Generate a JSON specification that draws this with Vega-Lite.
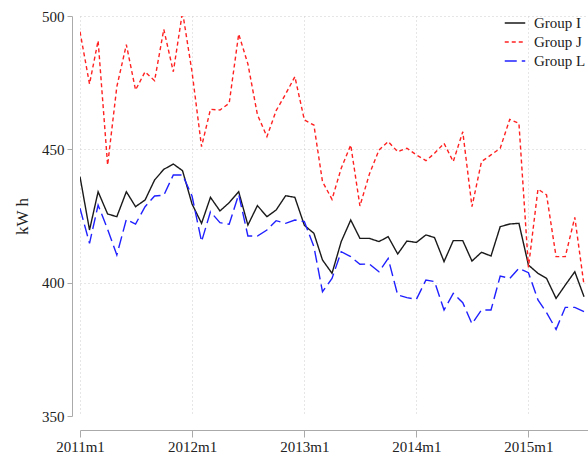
{
  "$schema": "https://vega.github.io/schema/vega-lite/v6.json",
  "width": 508,
  "height": 400,
  "autosize": {"type": "none"},
  "padding": {"left": 80, "top": 16, "right": 0, "bottom": 40},
  "background": "white",
  "config": {"view": {"stroke": null}, "font": "Liberation Serif"},
  "data": {"values": [
    {"month": "2011-01-01T00:00", "Group I": 439.75, "Group J": 494.1, "Group L": 427.9},
    {"month": "2011-02-01T00:00", "Group I": 419.75, "Group J": 474.5, "Group L": 414.75},
    {"month": "2011-03-01T00:00", "Group I": 434.1, "Group J": 490.75, "Group L": 429.1},
    {"month": "2011-04-01T00:00", "Group I": 425.75, "Group J": 444.1, "Group L": 420},
    {"month": "2011-05-01T00:00", "Group I": 424.75, "Group J": 473.5, "Group L": 410.4},
    {"month": "2011-06-01T00:00", "Group I": 434.1, "Group J": 489.25, "Group L": 423.75},
    {"month": "2011-07-01T00:00", "Group I": 428.5, "Group J": 472.25, "Group L": 422},
    {"month": "2011-08-01T00:00", "Group I": 431, "Group J": 479.1, "Group L": 428.5},
    {"month": "2011-09-01T00:00", "Group I": 438.5, "Group J": 475.75, "Group L": 432.5},
    {"month": "2011-10-01T00:00", "Group I": 442.5, "Group J": 495, "Group L": 432.75},
    {"month": "2011-11-01T00:00", "Group I": 444.5, "Group J": 479.1, "Group L": 440.4},
    {"month": "2011-12-01T00:00", "Group I": 442, "Group J": 501.6, "Group L": 440.4},
    {"month": "2012-01-01T00:00", "Group I": 429.5, "Group J": 479, "Group L": 432.5},
    {"month": "2012-02-01T00:00", "Group I": 422.25, "Group J": 451, "Group L": 415.4},
    {"month": "2012-03-01T00:00", "Group I": 432, "Group J": 465, "Group L": 426.6},
    {"month": "2012-04-01T00:00", "Group I": 426.9, "Group J": 464.75, "Group L": 422.5},
    {"month": "2012-05-01T00:00", "Group I": 430, "Group J": 467.25, "Group L": 421.9},
    {"month": "2012-06-01T00:00", "Group I": 434.1, "Group J": 493.25, "Group L": 433.1},
    {"month": "2012-07-01T00:00", "Group I": 421.6, "Group J": 482, "Group L": 417.5},
    {"month": "2012-08-01T00:00", "Group I": 428.9, "Group J": 463, "Group L": 417.5},
    {"month": "2012-09-01T00:00", "Group I": 424.75, "Group J": 454.75, "Group L": 419.75},
    {"month": "2012-10-01T00:00", "Group I": 427.25, "Group J": 464.5, "Group L": 423.25},
    {"month": "2012-11-01T00:00", "Group I": 432.6, "Group J": 470.75, "Group L": 422.25},
    {"month": "2012-12-01T00:00", "Group I": 432, "Group J": 477.25, "Group L": 423.5},
    {"month": "2013-01-01T00:00", "Group I": 421.5, "Group J": 461, "Group L": 422.9},
    {"month": "2013-02-01T00:00", "Group I": 418.5, "Group J": 459.1, "Group L": 413.5},
    {"month": "2013-03-01T00:00", "Group I": 408.5, "Group J": 437.9, "Group L": 396.6},
    {"month": "2013-04-01T00:00", "Group I": 403.5, "Group J": 431.25, "Group L": 401.6},
    {"month": "2013-05-01T00:00", "Group I": 415.4, "Group J": 442.9, "Group L": 411.6},
    {"month": "2013-06-01T00:00", "Group I": 423.5, "Group J": 451.6, "Group L": 409.75},
    {"month": "2013-07-01T00:00", "Group I": 416.6, "Group J": 428.75, "Group L": 406.9},
    {"month": "2013-08-01T00:00", "Group I": 416.6, "Group J": 440.8, "Group L": 407},
    {"month": "2013-09-01T00:00", "Group I": 415.4, "Group J": 449.75, "Group L": 404.1},
    {"month": "2013-10-01T00:00", "Group I": 417.25, "Group J": 452.9, "Group L": 409.1},
    {"month": "2013-11-01T00:00", "Group I": 410.75, "Group J": 449.1, "Group L": 395.4},
    {"month": "2013-12-01T00:00", "Group I": 415.6, "Group J": 450.4, "Group L": 394.4},
    {"month": "2014-01-01T00:00", "Group I": 415.1, "Group J": 447.9, "Group L": 393.75},
    {"month": "2014-02-01T00:00", "Group I": 417.9, "Group J": 445.75, "Group L": 401},
    {"month": "2014-03-01T00:00", "Group I": 416.9, "Group J": 448.5, "Group L": 400.4},
    {"month": "2014-04-01T00:00", "Group I": 407.9, "Group J": 452.25, "Group L": 389.75},
    {"month": "2014-05-01T00:00", "Group I": 415.75, "Group J": 445.4, "Group L": 396},
    {"month": "2014-06-01T00:00", "Group I": 415.75, "Group J": 456.6, "Group L": 392.5},
    {"month": "2014-07-01T00:00", "Group I": 408.1, "Group J": 428.5, "Group L": 384.6},
    {"month": "2014-08-01T00:00", "Group I": 411.4, "Group J": 445.4, "Group L": 389.75},
    {"month": "2014-09-01T00:00", "Group I": 410, "Group J": 447.9, "Group L": 389.75},
    {"month": "2014-10-01T00:00", "Group I": 421, "Group J": 450.4, "Group L": 402.5},
    {"month": "2014-11-01T00:00", "Group I": 422, "Group J": 461.25, "Group L": 401.6},
    {"month": "2014-12-01T00:00", "Group I": 422.25, "Group J": 459.75, "Group L": 405.4},
    {"month": "2015-01-01T00:00", "Group I": 406.6, "Group J": 405.75, "Group L": 403.75},
    {"month": "2015-02-01T00:00", "Group I": 403.5, "Group J": 435.1, "Group L": 393.5},
    {"month": "2015-03-01T00:00", "Group I": 401.6, "Group J": 432.9, "Group L": 388.75},
    {"month": "2015-04-01T00:00", "Group I": 394.1, "Group J": 409.75, "Group L": 382.5},
    {"month": "2015-05-01T00:00", "Group I": 399.1, "Group J": 409.75, "Group L": 390.75},
    {"month": "2015-06-01T00:00", "Group I": 404.1, "Group J": 424.5, "Group L": 390.75},
    {"month": "2015-07-01T00:00", "Group I": 394.75, "Group J": 399.1, "Group L": 389.1}
  ]},
  "transform": [{"fold": ["Group I", "Group J", "Group L"], "as": ["group", "kwh"]}],
  "mark": {"type": "line", "strokeWidth": 1.4, "clip": true},
  "encoding": {
    "x": {
      "field": "month",
      "type": "temporal",
      "scale": {"domain": [{"year": 2011, "month": 1, "date": 1}, {"year": 2015, "month": 7, "date": 14}]},
      "axis": {
        "title": null,
        "values": [
          {"year": 2011, "month": 1, "date": 1},
          {"year": 2012, "month": 1, "date": 1},
          {"year": 2013, "month": 1, "date": 1},
          {"year": 2014, "month": 1, "date": 1},
          {"year": 2015, "month": 1, "date": 1}
        ],
        "labelExpr": "timeFormat(datum.value, '%Y') + 'm' + (month(datum.value) + 1)",
        "offset": 14,
        "domainColor": "#aaaaaa",
        "tickColor": "#aaaaaa",
        "tickSize": 7,
        "labelPadding": 2,
        "labelFontSize": 15,
        "labelFont": "Liberation Serif",
        "labelColor": "#222222",
        "labelFlush": false,
        "grid": true,
        "gridColor": "#cccccc",
        "gridDash": [1, 3]
      }
    },
    "y": {
      "field": "kwh",
      "type": "quantitative",
      "scale": {"domain": [350, 500], "nice": false, "zero": false},
      "axis": {
        "title": "kW h",
        "titleFont": "Liberation Serif",
        "titleFontSize": 17,
        "titleFontWeight": "normal",
        "titleColor": "#222222",
        "titlePadding": 10,
        "values": [350, 400, 450, 500],
        "offset": 8,
        "domainColor": "#aaaaaa",
        "tickColor": "#aaaaaa",
        "tickSize": 5,
        "labelPadding": 3,
        "labelFontSize": 15,
        "labelFont": "Liberation Serif",
        "labelColor": "#222222",
        "grid": true,
        "gridColor": "#cccccc",
        "gridDash": [1, 3],
        "gridOpacity": {"condition": {"test": "datum.value == 350", "value": 0}, "value": 1}
      }
    },
    "color": {
      "field": "group",
      "type": "nominal",
      "scale": {"domain": ["Group I", "Group J", "Group L"], "range": ["#1a1a1a", "#ff2020", "#2020ff"]},
      "legend": {
        "title": null,
        "orient": "none",
        "legendX": 424,
        "legendY": -4,
        "symbolType": "stroke",
        "symbolSize": 420,
        "symbolStrokeWidth": 1.5,
        "labelFontSize": 15,
        "labelFont": "Liberation Serif",
        "labelColor": "#222222",
        "rowPadding": 0,
        "padding": 0,
        "labelOffset": 8
      }
    },
    "strokeDash": {
      "field": "group",
      "type": "nominal",
      "scale": {"domain": ["Group I", "Group J", "Group L"], "range": [[1, 0], [4, 3], [12, 5]]},
      "legend": {
        "title": null,
        "orient": "none",
        "legendX": 424,
        "legendY": -4,
        "symbolType": "stroke",
        "symbolSize": 420,
        "symbolStrokeWidth": 1.5,
        "labelFontSize": 15,
        "labelFont": "Liberation Serif",
        "labelColor": "#222222",
        "rowPadding": 0,
        "padding": 0,
        "labelOffset": 8
      }
    }
  }
}
